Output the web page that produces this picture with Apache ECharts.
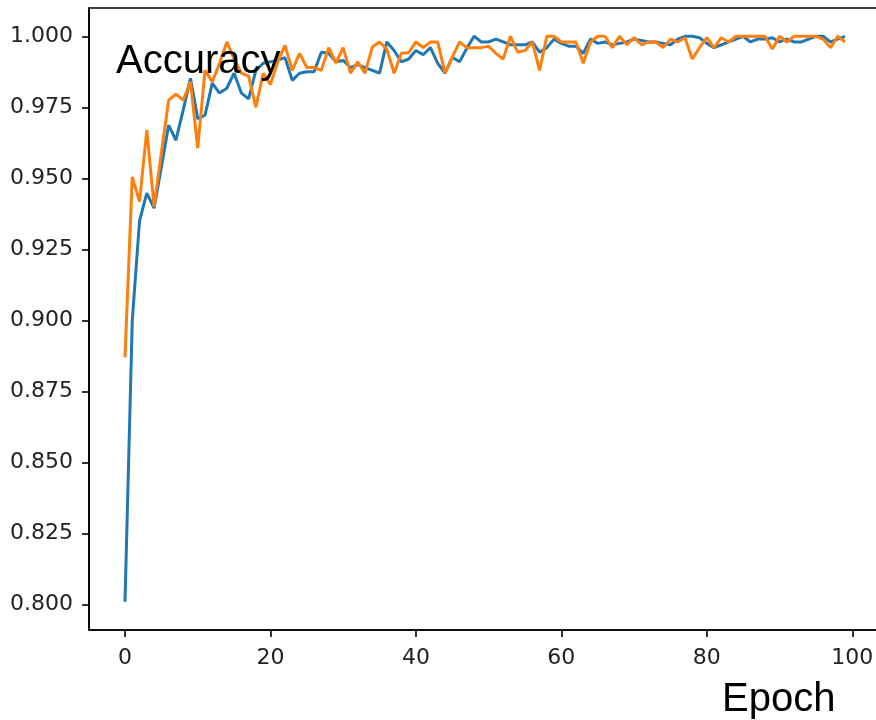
<!DOCTYPE html>
<html>
<head>
<meta charset="utf-8">
<script src="https://cdn.jsdelivr.net/npm/echarts@6/dist/echarts.min.js"></script>
<style>html,body{margin:0;padding:0;background:#fff;}#c{width:876px;height:720px;}</style>
</head>
<body>
<div id="c"></div>
<script>
const xTicks = [0, 20, 40, 60, 80, 100];
const yTicks = [0.800, 0.825, 0.850, 0.875, 0.900, 0.925, 0.950, 0.975, 1.000];
const xTitle = 'Epoch';
const yTitle = 'Accuracy';

const blueSeries = [
0.801, 0.900, 0.935, 0.9448, 0.9395, 0.954, 0.9687, 0.9634, 0.974, 0.9852,
0.971, 0.9722, 0.9835, 0.980, 0.9817, 0.987, 0.980, 0.978, 0.988, 0.9905,
0.991, 0.9916, 0.9925, 0.9845, 0.987, 0.9875, 0.9875, 0.9944, 0.994, 0.991,
0.9915, 0.989, 0.990, 0.989, 0.988, 0.987, 0.998, 0.995, 0.991, 0.992,
0.995, 0.9935, 0.996, 0.9905, 0.987, 0.9926, 0.991, 0.9958, 1.000, 0.998,
0.998, 0.999, 0.998, 0.997, 0.997, 0.997, 0.998, 0.9944, 0.996, 0.999,
0.9975, 0.9965, 0.9965, 0.994, 0.999, 0.9975, 0.998, 0.997, 0.9975, 0.998,
0.999, 0.9985, 0.998, 0.998, 0.9975, 0.997, 0.999, 1.000, 1.000, 0.9995,
0.9975, 0.996, 0.997, 0.998, 0.999, 1.000, 0.998, 0.999, 0.999, 0.9995,
0.998, 0.999, 0.998, 0.998, 0.999, 1.000, 1.000, 0.998, 0.999, 1.000
];
const orangeSeries = [
0.887, 0.9505, 0.9418, 0.967, 0.940, 0.959, 0.9775, 0.9796, 0.9775, 0.984,
0.9606, 0.988, 0.984, 0.9905, 0.998, 0.992, 0.987, 0.986, 0.975, 0.987,
0.983, 0.991, 0.9968, 0.988, 0.994, 0.989, 0.989, 0.988, 0.996, 0.9906,
0.996, 0.987, 0.991, 0.987, 0.9962, 0.998, 0.9955, 0.987, 0.994, 0.9942,
0.998, 0.996, 0.998, 0.998, 0.987, 0.9926, 0.998, 0.996, 0.996, 0.996,
0.9965, 0.994, 0.992, 1.000, 0.9944, 0.995, 0.998, 0.988, 1.000, 1.000,
0.998, 0.998, 0.998, 0.9905, 0.998, 1.000, 1.000, 0.996, 1.000, 0.997,
0.9995, 0.997, 0.998, 0.998, 0.996, 0.999, 0.998, 0.9995, 0.992, 0.996,
0.9995, 0.996, 0.9995, 0.998, 1.000, 1.000, 1.000, 1.000, 1.000, 0.9955,
1.000, 0.998, 1.000, 1.000, 1.000, 1.000, 0.999, 0.996, 1.000, 0.998
];

const pairs = arr => arr.map((v, i) => [i, v]);
const allVals = blueSeries.concat(orangeSeries);
const n = blueSeries.length;
const xPad = (n - 1) * 0.05;
const vMin = Math.min(...allVals), vMax = Math.max(...allVals);
const yPad = (vMax - vMin) * 0.05;

const chart = echarts.init(document.getElementById('c'), null, {renderer: 'canvas'});
const tickFont = {fontFamily: 'DejaVu Sans', fontSize: 22, color: '#222'};
chart.setOption({
  animation: false,
  backgroundColor: '#fff',
  grid: {
    left: 89, top: 8, right: -5, bottom: 90,
    containLabel: false, outerBoundsMode: 'none',
    show: true, borderColor: '#000', borderWidth: 1.6, backgroundColor: 'transparent'
  },
  xAxis: {
    type: 'value', min: -xPad, max: (n - 1) + xPad,
    axisLine: {show: true, onZero: false, lineStyle: {color: '#000', width: 1.6}},
    axisTick: {show: true, customValues: xTicks, length: 7, lineStyle: {color: '#000', width: 1.6}},
    axisLabel: Object.assign({show: true, customValues: xTicks, margin: 17, formatter: v => String(Math.round(v))}, tickFont),
    splitLine: {show: false}
  },
  yAxis: {
    type: 'value', min: vMin - yPad, max: vMax + yPad,
    axisLine: {show: true, onZero: false, lineStyle: {color: '#000', width: 1.6}},
    axisTick: {show: true, customValues: yTicks, length: 7, lineStyle: {color: '#000', width: 1.6}},
    axisLabel: Object.assign({show: true, customValues: yTicks, margin: 16, formatter: v => v.toFixed(3)}, tickFont),
    splitLine: {show: false}
  },
  series: [
    {type: 'line', data: pairs(blueSeries), showSymbol: false, symbol: 'none',
     lineStyle: {color: '#1f77b4', width: 3}, itemStyle: {color: '#1f77b4'}, z: 2},
    {type: 'line', data: pairs(orangeSeries), showSymbol: false, symbol: 'none',
     lineStyle: {color: '#ff7f0e', width: 3}, itemStyle: {color: '#ff7f0e'}, z: 3}
  ],
  graphic: [
    {type: 'text', z: 100, style: {x: 116, y: 62, text: yTitle, font: '40px "Liberation Sans"', fill: '#000', textAlign: 'left', textVerticalAlign: 'middle'}},
    {type: 'text', z: 100, style: {x: 722, y: 700, text: xTitle, font: '40px "Liberation Sans"', fill: '#000', textAlign: 'left', textVerticalAlign: 'middle'}}
  ]
});
</script>
</body>
</html>
